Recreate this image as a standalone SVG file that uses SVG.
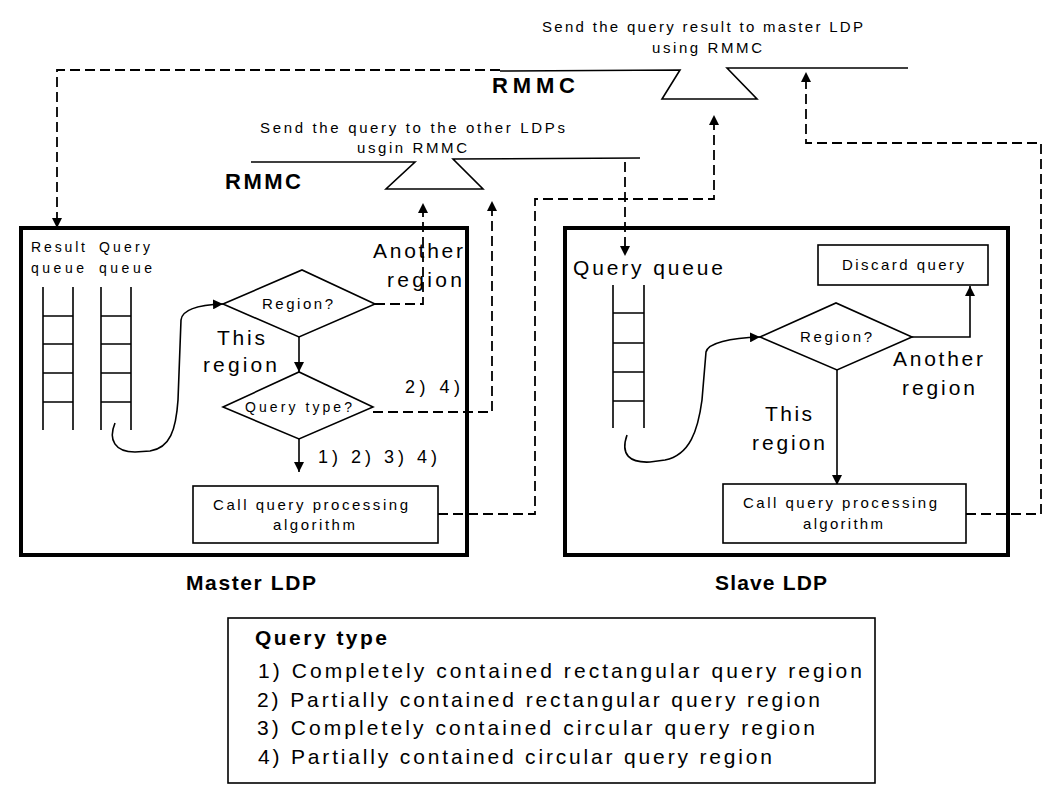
<svg xmlns="http://www.w3.org/2000/svg" width="1055" height="785" viewBox="0 0 1055 785">
<defs>
<marker id="ah" viewBox="0 0 10 10" refX="10" refY="5" markerWidth="10" markerHeight="10" markerUnits="userSpaceOnUse" orient="auto">
<path d="M0,0 L10,5 L0,10 Z" fill="#000"/>
</marker>
<style>
text{font-family:"Liberation Sans",Arial,sans-serif;fill:#000}
.s{font-size:15px}
.xs{font-size:14px}
.m{font-size:18px}
.l{font-size:21px}
.r{font-size:22px}
.b{font-weight:bold}
.box{fill:#fff;stroke:#000;stroke-width:4}
.ibox{fill:#fff;stroke:#000;stroke-width:1.6}
.ln{fill:none;stroke:#000;stroke-width:1.6}
.d{fill:none;stroke:#000;stroke-width:1.8;stroke-dasharray:10,5}
.a{marker-end:url(#ah)}
</style>
</defs>
<rect width="1055" height="785" fill="#fff"/>

<g id="rmmc-top">
<path class="ln" d="M500,71 L680,70 L662,99 L757,99 L727,68 L908,68"/>
<text class="s" x="542" y="32" textLength="321" lengthAdjust="spacing">Send the query result to master LDP</text>
<text class="s" x="652" y="53" textLength="110" lengthAdjust="spacing">using RMMC</text>
<text class="r b" x="492" y="93" textLength="83" lengthAdjust="spacing">RMMC</text>
</g>

<g id="rmmc-low">
<path class="ln" d="M251,162 L415,162 L386,189 L483,189 L453,159 L640,158"/>
<text class="s" x="260" y="133" textLength="305" lengthAdjust="spacing">Send the query to the other LDPs</text>
<text class="s" x="357" y="153" textLength="110" lengthAdjust="spacing">usgin RMMC</text>
<text class="r b" x="225" y="189" textLength="76" lengthAdjust="spacing">RMMC</text>
</g>

<g id="master">
<rect class="box" x="21" y="228" width="446" height="327"/>
<text class="xs" x="31" y="252" textLength="54" lengthAdjust="spacing">Result</text>
<text class="xs" x="31" y="273" textLength="53" lengthAdjust="spacing">queue</text>
<text class="xs" x="99" y="252" textLength="51" lengthAdjust="spacing">Query</text>
<text class="xs" x="99" y="273" textLength="53" lengthAdjust="spacing">queue</text>
<path class="ln" d="M43,287 V430 M73,287 V430 M43,316 H73 M43,344 H73 M43,373 H73 M43,402 H73"/>
<path class="ln" d="M101,287 V430 M131,287 V430 M101,316 H131 M101,344 H131 M101,373 H131 M101,402 H131"/>
<path class="ln a" d="M115,423 C108,440 115,452 135,452 L150,451 C170,448 176,430 178,400 L181,320 C182,310 195,305 223,304"/>
<polygon class="ln" points="223,304 302,270 375,304 299,337"/>
<text class="s" x="262" y="309" textLength="71" lengthAdjust="spacing">Region?</text>
<path class="ln a" d="M299,337 V372"/>
<polygon class="ln" points="223,407 299,372 373,407 299,439"/>
<text class="xs" x="245" y="412" textLength="107" lengthAdjust="spacing">Query type?</text>
<path class="ln a" d="M299,439 V472"/>
<text class="l" x="217" y="345" textLength="48" lengthAdjust="spacing">This</text>
<text class="l" x="203" y="372" textLength="74" lengthAdjust="spacing">region</text>
<text class="l" x="373" y="258" textLength="90" lengthAdjust="spacing">Another</text>
<text class="l" x="387" y="287" textLength="75" lengthAdjust="spacing">region</text>
<text class="m" x="405" y="393" textLength="55" lengthAdjust="spacing">2) 4)</text>
<text class="m" x="318" y="463" textLength="119" lengthAdjust="spacing">1) 2) 3) 4)</text>
<rect class="ibox" x="193" y="486" width="245" height="57"/>
<text class="s" x="213" y="510" textLength="195" lengthAdjust="spacing">Call query processing</text>
<text class="s" x="273" y="530" textLength="82" lengthAdjust="spacing">algorithm</text>
<text class="l b" x="186" y="590" textLength="130" lengthAdjust="spacing">Master LDP</text>
</g>

<g id="slave">
<rect class="box" x="565" y="228" width="443" height="327"/>
<text class="l" x="573" y="275" textLength="150" lengthAdjust="spacing">Query queue</text>
<path class="ln" d="M613,285 V428 M644,285 V428 M613,313 H644 M613,343 H644 M613,372 H644 M613,401 H644"/>
<path class="ln a" d="M627,435 C620,455 630,463 650,462 L665,460 C690,455 698,430 702,400 L706,352 C708,343 730,338 760,337"/>
<polygon class="ln" points="760,337 836,303 912,337 837,370"/>
<text class="s" x="800" y="342" textLength="72" lengthAdjust="spacing">Region?</text>
<rect class="ibox" x="818" y="245" width="170" height="40"/>
<text class="s" x="842" y="270" textLength="122" lengthAdjust="spacing">Discard query</text>
<path class="ln a" d="M912,337 H970 V286"/>
<text class="l" x="893" y="366" textLength="90" lengthAdjust="spacing">Another</text>
<text class="l" x="902" y="395" textLength="73" lengthAdjust="spacing">region</text>
<path class="ln a" d="M837,370 V485"/>
<text class="l" x="765" y="421" textLength="47" lengthAdjust="spacing">This</text>
<text class="l" x="752" y="450" textLength="73" lengthAdjust="spacing">region</text>
<rect class="ibox" x="723" y="484" width="243" height="59"/>
<text class="s" x="743" y="508" textLength="194" lengthAdjust="spacing">Call query processing</text>
<text class="s" x="803" y="529" textLength="80" lengthAdjust="spacing">algorithm</text>
<text class="l b" x="715" y="590" textLength="112" lengthAdjust="spacing">Slave LDP</text>
</g>

<g id="connectors">
<path class="d" d="M500,70 H57 V220"/>
<path d="M52,218 L62,218 L57,228 Z"/>
<path class="d" d="M375,304 H423 V213"/>
<path d="M418,213 L428,213 L423,203 Z"/>
<path class="d" d="M373,412 H492 V211"/>
<path d="M487,211 L497,211 L492,201 Z"/>
<path class="d" d="M625,162 V246"/>
<path d="M620,246 L630,246 L625,256 Z"/>
<path class="d" d="M438,514 H535 V199 H714 V125"/>
<path d="M709,125 L719,125 L714,115 Z"/>
<path class="d" d="M966,514 H1041 V143 H806 V82"/>
<path d="M801,82 L811,82 L806,72 Z"/>
</g>

<g id="legend">
<rect class="ibox" x="228" y="618" width="647" height="165"/>
<text class="l b" x="255" y="645" textLength="132" lengthAdjust="spacing">Query type</text>
<text class="l" x="258" y="678" textLength="604" lengthAdjust="spacing">1) Completely contained rectangular query region</text>
<text class="l" x="257" y="707" textLength="563" lengthAdjust="spacing">2) Partially contained rectangular query region</text>
<text class="l" x="257" y="735" textLength="558" lengthAdjust="spacing">3) Completely contained circular query region</text>
<text class="l" x="258" y="764" textLength="514" lengthAdjust="spacing">4) Partially contained circular query region</text>
</g>
</svg>
